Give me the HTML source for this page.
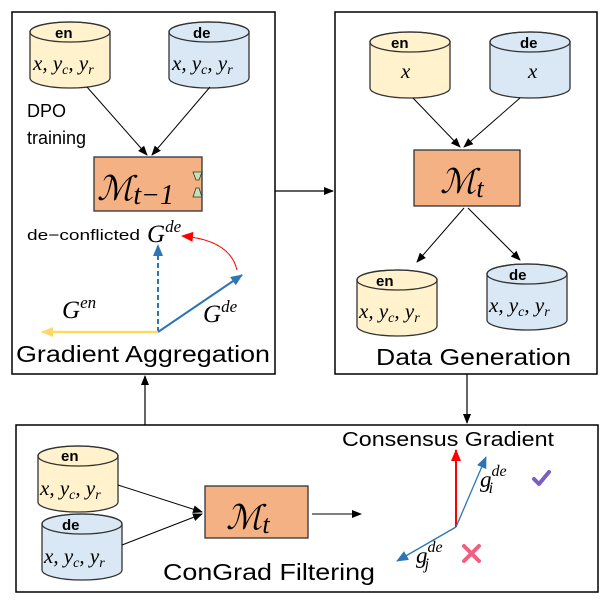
<!DOCTYPE html>
<html><head><style>body{margin:0;background:#fff}</style></head><body>
<svg width="607" height="601" xmlns="http://www.w3.org/2000/svg" font-family="Liberation Sans, sans-serif">
<defs>
<marker id="ab" markerUnits="userSpaceOnUse" markerWidth="10" markerHeight="10" refX="9" refY="5" orient="auto"><path d="M0,1L10,5L0,9z" fill="#000"/></marker>
<marker id="abl" markerUnits="userSpaceOnUse" markerWidth="12" markerHeight="12" refX="11" refY="6" orient="auto"><path d="M0,1L12,6L0,11z" fill="#2e75b6"/></marker>
<marker id="ay" markerUnits="userSpaceOnUse" markerWidth="12" markerHeight="12" refX="11" refY="6" orient="auto"><path d="M0,1L12,6L0,11z" fill="#ffd966"/></marker>
<marker id="ar" markerUnits="userSpaceOnUse" markerWidth="12" markerHeight="12" refX="11" refY="6" orient="auto"><path d="M0,1L12,6L0,11z" fill="#f00"/></marker>
<g id="cy"><path d="M0,10 A40,10 0 0 1 80,10 V56 A40,10 0 0 1 0,56 Z" stroke="#333" stroke-width="1.3"/><ellipse cx="40" cy="10" rx="40" ry="10" fill="none" stroke="#333" stroke-width="1.3"/></g>
</defs>
<g fill="none" stroke="#000" stroke-width="1.5">
<rect x="12" y="12" width="263" height="362"/>
<rect x="335" y="12" width="262" height="362"/>
<rect x="16" y="425" width="582" height="167"/>
</g>
<g font-family="Liberation Serif, serif" font-style="italic" font-size="21">
<!-- left box -->
<use href="#cy" x="30" y="22" fill="#fff2cc"/>
<use href="#cy" x="169" y="22" fill="#dae8f5"/>
<text x="55" y="38" font-family="Liberation Sans" font-style="normal" font-weight="bold" font-size="15">en</text>
<text x="193" y="38" font-family="Liberation Sans" font-style="normal" font-weight="bold" font-size="15">de</text>
<text x="33" y="70">x, y<tspan font-size="14" dy="4">c</tspan><tspan dy="-4">, y</tspan><tspan font-size="14" dy="4">r</tspan></text>
<text x="172" y="70">x, y<tspan font-size="14" dy="4">c</tspan><tspan dy="-4">, y</tspan><tspan font-size="14" dy="4">r</tspan></text>
<line x1="87" y1="87" x2="147" y2="155" stroke="#000" marker-end="url(#ab)"/>
<line x1="210" y1="87" x2="152" y2="155" stroke="#000" marker-end="url(#ab)"/>
<rect x="94" y="157" width="108" height="54" fill="#f4b183" stroke="#333" stroke-width="1.3"/>
<path d="M193,172h9l-3,8h-3z M196,188h3l3,9h-9z" fill="#c5e0b4" stroke="#333" stroke-width="0.8"/>
<text x="97" y="200" font-family="Liberation Serif" font-size="34">ℳ<tspan font-size="28" dy="4">t−1</tspan></text>
<text x="147" y="242" font-size="25">G<tspan font-size="17" dy="-10">de</tspan></text>
<line x1="158" y1="332" x2="158" y2="245" stroke="#2e75b6" stroke-width="2" stroke-dasharray="5,3" marker-end="url(#abl)"/>
<line x1="158" y1="332" x2="242" y2="275" stroke="#2e75b6" stroke-width="2" marker-end="url(#abl)"/>
<line x1="158" y1="332" x2="42" y2="332" stroke="#ffd966" stroke-width="2.5" marker-end="url(#ay)"/>
<path d="M237,270 Q230,240 182,236" fill="none" stroke="#f00" stroke-width="1" marker-end="url(#ar)"/>
<text x="62" y="318" font-size="25">G<tspan font-size="17" dy="-10">en</tspan></text>
<text x="203" y="322" font-size="25">G<tspan font-size="17" dy="-10">de</tspan></text>
<!-- right box -->
<use href="#cy" x="370" y="32" fill="#fff2cc"/>
<use href="#cy" x="490" y="32" fill="#dae8f5"/>
<text x="391" y="48" font-family="Liberation Sans" font-style="normal" font-weight="bold" font-size="15">en</text>
<text x="520" y="48" font-family="Liberation Sans" font-style="normal" font-weight="bold" font-size="15">de</text>
<text x="401" y="78">x</text><text x="528" y="78">x</text>
<line x1="413" y1="98" x2="460" y2="147" stroke="#000" marker-end="url(#ab)"/>
<line x1="520" y1="98" x2="464" y2="147" stroke="#000" marker-end="url(#ab)"/>
<rect x="414" y="150" width="106" height="56" fill="#f4b183" stroke="#333" stroke-width="1.3"/>
<text x="440" y="193" font-family="Liberation Serif" font-size="34">ℳ<tspan font-size="26" dy="4">t</tspan></text>
<line x1="464" y1="208" x2="417" y2="262" stroke="#000" marker-end="url(#ab)"/>
<line x1="468" y1="208" x2="520" y2="260" stroke="#000" marker-end="url(#ab)"/>
<use href="#cy" x="357" y="270" fill="#fff2cc"/>
<use href="#cy" x="487" y="264" fill="#dae8f5"/>
<text x="376" y="286" font-family="Liberation Sans" font-style="normal" font-weight="bold" font-size="15">en</text>
<text x="509" y="280" font-family="Liberation Sans" font-style="normal" font-weight="bold" font-size="15">de</text>
<text x="359" y="318">x, y<tspan font-size="14" dy="4">c</tspan><tspan dy="-4">, y</tspan><tspan font-size="14" dy="4">r</tspan></text>
<text x="489" y="312">x, y<tspan font-size="14" dy="4">c</tspan><tspan dy="-4">, y</tspan><tspan font-size="14" dy="4">r</tspan></text>
<!-- bottom -->
<use href="#cy" x="38" y="446" fill="#fff2cc"/>
<use href="#cy" x="42" y="514" fill="#dae8f5"/>
<text x="61" y="461" font-family="Liberation Sans" font-style="normal" font-weight="bold" font-size="15">en</text>
<text x="62" y="530" font-family="Liberation Sans" font-style="normal" font-weight="bold" font-size="15">de</text>
<text x="40" y="495">x, y<tspan font-size="14" dy="4">c</tspan><tspan dy="-4">, y</tspan><tspan font-size="14" dy="4">r</tspan></text>
<text x="44" y="563">x, y<tspan font-size="14" dy="4">c</tspan><tspan dy="-4">, y</tspan><tspan font-size="14" dy="4">r</tspan></text>
<line x1="118" y1="485" x2="202" y2="512" stroke="#000" marker-end="url(#ab)"/>
<line x1="122" y1="545" x2="202" y2="514" stroke="#000" marker-end="url(#ab)"/>
<rect x="205" y="486" width="103" height="52" fill="#f4b183" stroke="#333" stroke-width="1.3"/>
<text x="226" y="529" font-family="Liberation Serif" font-size="34">ℳ<tspan font-size="26" dy="4">t</tspan></text>
<line x1="312" y1="514" x2="361" y2="514" stroke="#000" marker-end="url(#ab)"/>
<line x1="456" y1="527" x2="456" y2="450" stroke="#f00" stroke-width="2" marker-end="url(#ar)"/>
<line x1="456" y1="527" x2="486" y2="457" stroke="#2e75b6" stroke-width="1.3" marker-end="url(#abl)"/>
<line x1="456" y1="527" x2="397" y2="561" stroke="#2e75b6" stroke-width="1.3" marker-end="url(#abl)"/>
<text x="480" y="487" font-size="23">g<tspan font-size="16" dy="-11">de</tspan><tspan font-size="16" dx="-18" dy="17">i</tspan></text>
<text x="416" y="563" font-size="23">g<tspan font-size="16" dy="-11">de</tspan><tspan font-size="16" dx="-18" dy="17">j</tspan></text>
</g>
<path d="M534,479l5,5l10,-12" fill="none" stroke="#7a5cc2" stroke-width="4" stroke-linecap="round" stroke-linejoin="round"/>
<path d="M464,546l15,15M479,546l-15,15" stroke="#f06080" stroke-width="4" stroke-linecap="round"/>
<g font-size="18" fill="#000">
<text x="27" y="117">DPO</text><text x="27" y="144">training</text>
<text x="27" y="240" font-size="15" textLength="113" lengthAdjust="spacingAndGlyphs">de−conflicted</text>
<text x="16" y="362" font-size="23" textLength="254" lengthAdjust="spacingAndGlyphs">Gradient Aggregation</text>
<text x="376" y="365" font-size="23" textLength="195" lengthAdjust="spacingAndGlyphs">Data Generation</text>
<text x="342" y="446" font-size="20" textLength="212" lengthAdjust="spacingAndGlyphs">Consensus Gradient</text>
<text x="163" y="580" font-size="23" textLength="212" lengthAdjust="spacingAndGlyphs">ConGrad Filtering</text>
</g>
<g stroke="#000" stroke-width="1.2">
<line x1="275" y1="191" x2="333" y2="191" marker-end="url(#ab)"/>
<line x1="467" y1="374" x2="467" y2="423" marker-end="url(#ab)"/>
<line x1="145" y1="425" x2="145" y2="376" marker-end="url(#ab)"/>
</g>
</svg>
</body></html>
